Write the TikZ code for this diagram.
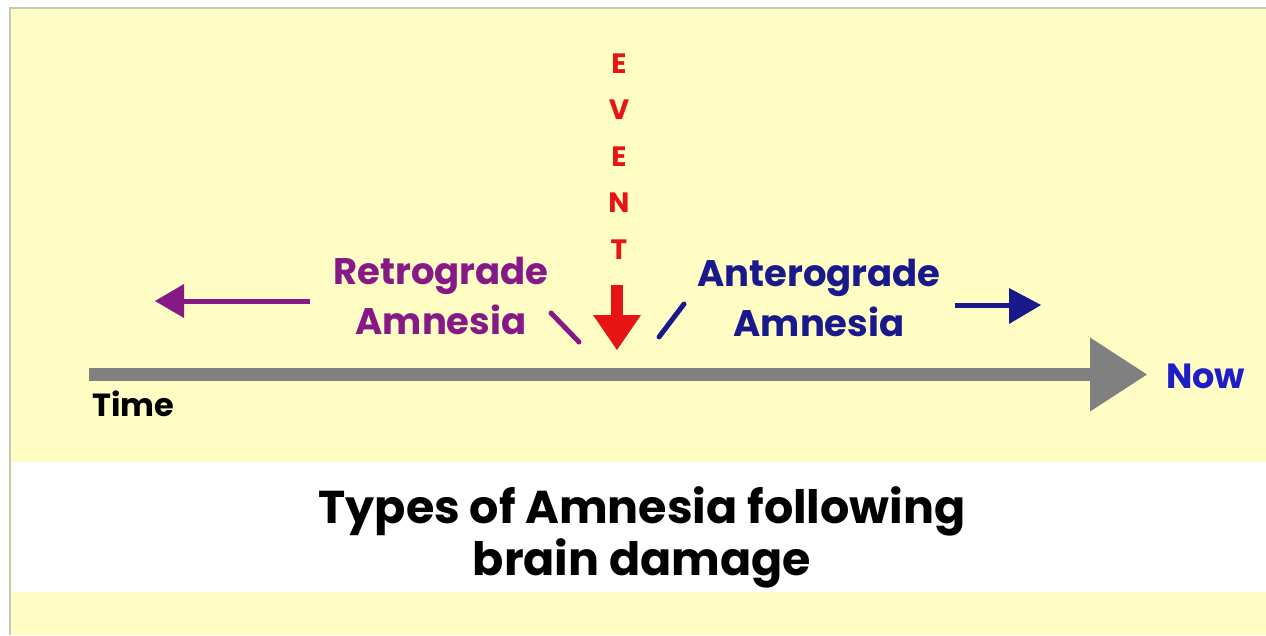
\documentclass[tikz,border=0pt]{standalone}
\usepackage{fontspec}
\setmainfont{Poppins}
\usepackage{xcolor}
\usepackage{tikz}
\usetikzlibrary{positioning, calc}
\definecolor{notepaper}{RGB}{255, 253, 196}
\definecolor{framegrey}{RGB}{200, 200, 185}
\definecolor{timegrey}{RGB}{128, 128, 128}
\definecolor{retropurple}{RGB}{135, 25, 135}
\definecolor{anteroblue}{RGB}{25, 25, 140}
\definecolor{nowblue}{RGB}{30, 30, 200}
\definecolor{eventred}{RGB}{230, 20, 20}

\tikzset{
  amnesia/.style={font=\bfseries\fontsize{37}{50}\selectfont, inner sep=0pt, anchor=base},
  eventletter/.style={eventred, font=\bfseries\fontsize{28}{28}\selectfont, inner sep=0pt, anchor=base},
  caption/.style={font=\bfseries\fontsize{46}{52}\selectfont, inner sep=0pt, anchor=base},
  slash/.style={line width=5pt, line cap=round}
}

\begin{document}
\begin{tikzpicture}[x=1pt, y=-1pt]
        \useasboundingbox (0,0) rectangle (1266,635);
        % Paper and caption band
        \fill[white] (0,0) rectangle (1266,635);
        \fill[notepaper] (10,8) rectangle (1266,635);
        \draw[framegrey, line width=2pt] (10,635) -- (10,8) -- (1266,8);
        \fill[white] (12,462) rectangle (1266,592);

        % Time line
        \def\tly{374.5}
        \coordinate (tstart) at (89,\tly);
        \coordinate (tbase) at (1090,\tly);
        \coordinate (ttip) at (1147,\tly);
        \draw[timegrey, line width=13pt] (tstart) -- (tbase);
        \fill[timegrey] (ttip) -- ($(tbase)+(0,-37)$) -- ($(tbase)+(0,37)$) -- cycle;
        \node[anchor=base west, font=\bfseries\fontsize{32}{32}\selectfont, inner sep=0pt] (time) at (92,416) {Time};
        \node[anchor=base west, nowblue, font=\bfseries\fontsize{35}{35}\selectfont, inner sep=0pt] (now) at (1166,388) {Now};

        % Event
        \foreach \ltr/\yy [count=\i] in {E/73, V/119, E/166, N/212, T/259}
            \node[eventletter] (ev\i) at (619,\yy) {\ltr};
        \coordinate (evtop) at (617,285);
        \coordinate (evtip) at (617,350);
        \draw[eventred, line width=12pt] (evtop) -- (617,316);
        \fill[eventred] (evtip) -- (593,315) -- (641,315) -- cycle;

        % Retrograde
        \node[amnesia, retropurple] (retro) at (441,284) {Retrograde};
        \node[amnesia, retropurple] (retroam) at (441,334) {Amnesia};
        \coordinate (rfrom) at (310,301);
        \coordinate (rto) at (155,301);
        \draw[retropurple, line width=5pt] (rfrom) -- (180,301);
        \fill[retropurple] (rto) -- (184,284) -- (184,318) -- cycle;
        \draw[retropurple, slash] (551,313) -- (579,342);

        % Anterograde
        \node[amnesia, anteroblue] (antero) at (819,286) {Anterograde};
        \node[amnesia, anteroblue] (anteroam) at (819,336) {Amnesia};
        \coordinate (afrom) at (955,305);
        \coordinate (ato) at (1041,305);
        \draw[anteroblue, line width=5pt] (afrom) -- (1012,305);
        \fill[anteroblue] (ato) -- (1009,288) -- (1009,324) -- cycle;
        \draw[anteroblue, slash] (684,304) -- (659,337);

        % Caption
        \node[caption] (captop) at (642,523) {Types of Amnesia following};
        \node[caption] (capbot) at (642,575) {brain damage};
\end{tikzpicture}
\end{document}
